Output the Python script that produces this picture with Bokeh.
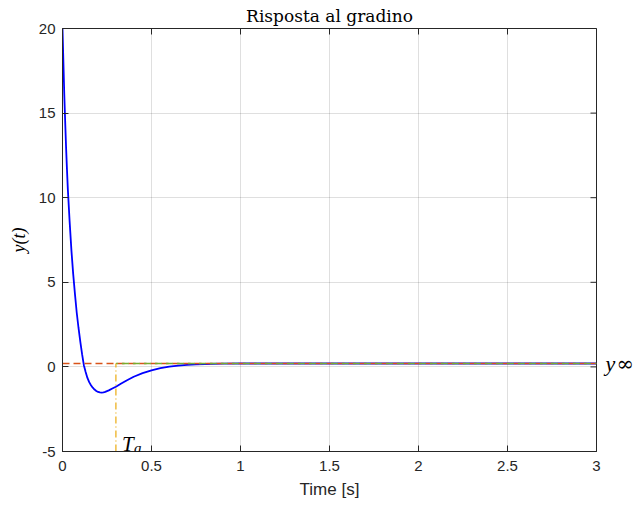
import math
from bokeh.plotting import figure
from bokeh.models import Range1d, LinearAxis, FixedTicker, Label
from bokeh.embed import file_html
from bokeh.resources import INLINE

# ---- data ----
t_resp = [0.0, 0.005, 0.01, 0.015, 0.02, 0.025, 0.03, 0.04, 0.05, 0.06, 0.07,
          0.08, 0.09, 0.10, 0.11, 0.12, 0.13, 0.14, 0.15, 0.16, 0.17, 0.18,
          0.19, 0.20, 0.21, 0.22, 0.23, 0.24, 0.26, 0.28, 0.30, 0.33, 0.36,
          0.40, 0.45, 0.50, 0.55, 0.60, 0.65, 0.70, 0.75, 0.80, 0.90, 1.0,
          1.2, 1.5, 2.0, 2.5, 3.0]
y_resp = [20.0, 18.0, 16.1, 14.5, 13.0, 11.7, 10.5, 8.6, 6.9, 5.5, 4.3,
          3.2, 2.3, 1.5, 0.75, 0.1, -0.3, -0.65, -0.9, -1.08, -1.23, -1.34,
          -1.42, -1.48, -1.51, -1.52, -1.51, -1.48, -1.39, -1.28, -1.17, -0.98, -0.80,
          -0.58, -0.37, -0.20, -0.07, 0.02, 0.08, 0.12, 0.15, 0.17, 0.19, 0.2,
          0.2, 0.2, 0.2, 0.2, 0.2]
y_inf = 0.2
t_a = 0.3

x_lim = [0.0, 3.0]
y_lim = [-5.0, 20.0]
x_ticks = [0.0, 0.5, 1.0, 1.5, 2.0, 2.5, 3.0]
x_tick_labels = ["0", "0.5", "1", "1.5", "2", "2.5", "3"]
y_ticks = [-5.0, 0.0, 5.0, 10.0, 15.0, 20.0]
y_tick_labels = ["-5", "0", "5", "10", "15", "20"]

title_text = "Risposta al gradino"
x_label = "Time [s]"
y_label = "y(t)"

AX = "#262626"

p = figure(width=637, height=507, x_range=Range1d(*x_lim), y_range=Range1d(*y_lim),
           output_backend="svg", toolbar_location=None,
           min_border_left=62, min_border_right=41, min_border_top=28, min_border_bottom=56)
p.background_fill_color = "white"
p.border_fill_color = "white"
p.outline_line_color = AX
p.outline_line_width = 1

# title
p.title.text = title_text
p.title.text_font = "DejaVu Serif"
p.title.text_font_style = "normal"
p.title.text_font_size = "17px"
p.title.text_color = "#000000"
p.title.align = "center"
p.title.standoff = 6

xt = FixedTicker(ticks=x_ticks, minor_ticks=[])
yt = FixedTicker(ticks=y_ticks, minor_ticks=[])

def style_axis(ax, ticker, labels_map):
    ax.ticker = ticker
    ax.major_label_overrides = labels_map
    ax.axis_line_color = AX
    ax.major_tick_line_color = AX
    ax.major_tick_in = 6
    ax.major_tick_out = 0
    ax.minor_tick_line_color = None
    ax.major_label_text_color = AX
    ax.major_label_text_font = "Liberation Sans"
    ax.major_label_text_font_size = "15px"

style_axis(p.xaxis[0], xt, dict(zip(x_ticks, x_tick_labels)))
style_axis(p.yaxis[0], yt, dict(zip(y_ticks, y_tick_labels)))
p.xaxis[0].major_label_standoff = 9
p.yaxis[0].major_label_standoff = 7

p.xaxis[0].axis_label = x_label
p.xaxis[0].axis_label_text_font = "Liberation Sans"
p.xaxis[0].axis_label_text_font_style = "normal"
p.xaxis[0].axis_label_text_font_size = "17px"
p.xaxis[0].axis_label_text_color = AX
p.xaxis[0].axis_label_standoff = 6

p.yaxis[0].axis_label = y_label
p.yaxis[0].axis_label_text_font = "Liberation Serif"
p.yaxis[0].axis_label_text_font_style = "italic"
p.yaxis[0].axis_label_text_font_size = "18px"
p.yaxis[0].axis_label_text_color = "#000000"
p.yaxis[0].axis_label_standoff = 7

p.xgrid.ticker = xt
p.ygrid.ticker = yt
p.grid.grid_line_color = AX
p.grid.grid_line_alpha = 0.15
p.grid.grid_line_width = 1

# inner tick marks on top and right edges of the box (half clipped by the frame)
p.scatter(x=x_ticks, y=[y_lim[1]] * len(x_ticks), marker="dash", size=12,
          angle=math.pi / 2, line_color=AX, line_width=1)
p.scatter(x=[x_lim[1]] * len(y_ticks), y=y_ticks, marker="dash", size=12,
          line_color=AX, line_width=1)

# y_inf label on the right, as tick labels of two tick-less right axes
def label_axis(text, font_size, style, font, standoff, baseline):
    ax = LinearAxis(ticker=FixedTicker(ticks=[y_inf], minor_ticks=[]))
    ax.major_label_overrides = {y_inf: text}
    ax.axis_line_color = None
    ax.major_tick_line_color = None
    ax.major_tick_in = 0
    ax.major_tick_out = 0
    ax.minor_tick_line_color = None
    ax.major_label_standoff = standoff
    ax.major_label_text_font = font
    ax.major_label_text_font_style = style
    ax.major_label_text_font_size = font_size
    ax.major_label_text_color = "#000000"
    ax.major_label_text_baseline = baseline
    return ax

p.add_layout(label_axis("y", "22px", "italic", "Liberation Serif", 9, "middle"), "right")
p.add_layout(label_axis("\u221e", "21px", "normal", "DejaVu Serif", -2, "middle"), "right")

# ---- curves ----
p.line(t_resp, y_resp, line_color="#0000ff", line_width=1.8)
p.line(x_lim, [y_inf, y_inf], line_color="#D95319", line_width=1.5, line_dash="7 4")
p.line([t_a, x_lim[1]], [y_inf, y_inf], line_color="#77AC30", line_width=1.5, line_dash="7 4",
       line_dash_offset=5)
p.line([t_a, t_a], [y_lim[0], y_inf], line_color="#EDB120", line_width=1.3, line_dash="7 3 1 3")

# ---- T_a label ----
p.add_layout(Label(x=t_a, y=y_lim[0], x_offset=6, y_offset=8, text="T",
                   text_font="Liberation Serif", text_font_style="italic", text_font_size="21px",
                   text_color="#000000", text_align="left", text_baseline="alphabetic"))
p.add_layout(Label(x=t_a, y=y_lim[0], x_offset=18, y_offset=4, text="a",
                   text_font="Liberation Serif", text_font_style="italic", text_font_size="15px",
                   text_color="#000000", text_align="left", text_baseline="alphabetic"))

open("out.html", "w").write(file_html(p, INLINE))
